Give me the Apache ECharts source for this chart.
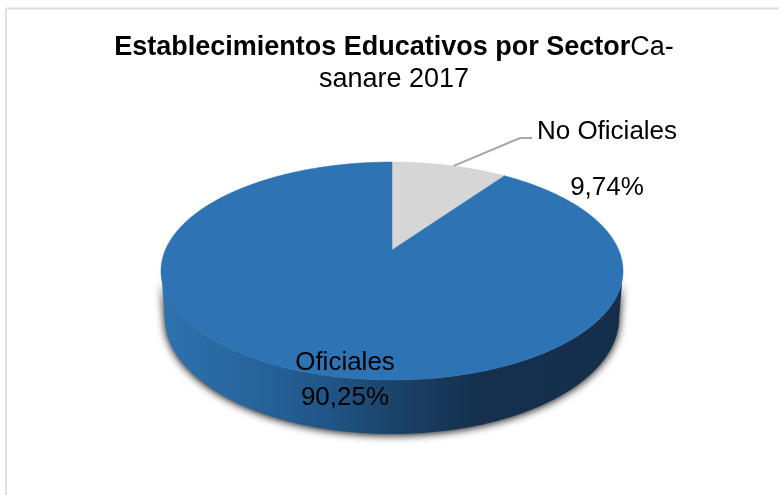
<!DOCTYPE html>
<html>
<head>
<meta charset="utf-8">
<title>Establecimientos Educativos por Sector</title>
<style>
	html,body{margin:0;padding:0;background:#fff;}
	#main{width:779px;height:495px;}
</style>
<script src="https://cdn.jsdelivr.net/npm/echarts@6/dist/echarts.min.js"></script>
</head>
<body>
<div id="main"></div>
<script>
var categories=['No Oficiales','Oficiales'];
var values=[9.74,90.25];
var valueLabels=['9,74%','90,25%'];
var colors=['#d6d6d6','#2e74b5'];

var fontName='"Liberation Sans",Arial,sans-serif';
var total=values[0]+values[1];

// la tarta se ve en perspectiva: el centro real queda por encima del centro de la elipse
var cx=392,apexY=250,persp=0.1927,scaleX=226.7,scaleY=104.96;
// borde inferior de la pared lateral
var wallCy=318,wallRy=116,wallRx=0.983,rimCy=271,rimRy=109;

function project(theta){
	var u=Math.sin(theta),v=Math.cos(theta),w=1+persp*v;
	return [cx+scaleX*u/w,apexY-scaleY*v/w];
}
function projectLower(theta){
	var p=project(theta);
	return [cx+(p[0]-cx)*wallRx,wallCy+(p[1]-rimCy)*wallRy/rimRy];
}
function rim(from,to,fn){
	var pts=[],n=Math.max(2,Math.ceil(Math.abs(to-from)/0.01));
	for(var i=0;i<=n;i++){
		pts.push(fn(from+(to-from)*i/n));
	}
	return pts;
}

function renderWall(){
	var start=Math.acos(-persp),end=2*Math.PI-start;
	var pts=rim(start,end,project).concat(rim(end,start,projectLower));
	return {
		type:'polygon',
		shape:{points:pts},
		style:{
			fill:new echarts.graphic.LinearGradient(0,0,1,0,[
				{offset:0,color:'#2e72ae'},
				{offset:0.2,color:'#27649c'},
				{offset:0.37,color:'#205485'},
				{offset:0.5,color:'#1b4369'},
				{offset:0.68,color:'#15304f'},
				{offset:1,color:'#142e4b'}
			]),
			shadowBlur:8,
			shadowColor:'rgba(0,0,0,1)',
			shadowOffsetY:1
		}
	};
}

function renderSlice(params,api){
	var i=params.dataIndex,before=0;
	for(var k=0;k<i;k++){
		before+=values[k];
	}
	var from=before/total*2*Math.PI;
	var to=(before+api.value(0))/total*2*Math.PI;
	var pts=[[cx,apexY]].concat(rim(from,to,project));
	return {
		type:'polygon',
		shape:{points:pts},
		style:{fill:colors[i],stroke:colors[i],lineWidth:0.5}
	};
}

var labelPlaces=[
	{x:607,y1:132,y2:188},
	{x:345,y1:363,y2:398}
];
function renderLabel(params){
	var i=params.dataIndex,place=labelPlaces[i],children=[];
	if(i==0){
		var mid=project(values[0]/total*Math.PI*1.07);
		children.push({
			type:'polyline',
			shape:{points:[mid,[520,138],[532,138]]},
			style:{stroke:'#a6a6a6',lineWidth:2,fill:null}
		});
	}
	[categories[i],valueLabels[i]].forEach(function(t,n){
		children.push({
			type:'text',
			style:{
				text:t,
				x:place.x,
				y:n==0?place.y1:place.y2,
				align:'center',
				verticalAlign:'middle',
				fill:'#000',
				fontSize:26,
				fontFamily:fontName
			}
		});
	});
	return {type:'group',children:children};
}

var chart=echarts.init(document.getElementById('main'),null,{renderer:'canvas'});
chart.setOption({
	backgroundColor:'#ffffff',
	animation:false,
	title:{
		left:389,
		top:27,
		textAlign:'center',
		text:'{b|Establecimientos Educativos por Sector}{n|Ca-}\n{n|sanare 2017}',
		textStyle:{
			lineHeight:32,
			rich:{
				b:{fontFamily:fontName,fontSize:27,fontWeight:'bold',color:'#000',lineHeight:32},
				n:{fontFamily:fontName,fontSize:27,fontWeight:'normal',color:'#000',lineHeight:32}
			}
		}
	},
	graphic:[{
		type:'rect',
		silent:true,
		shape:{x:6,y:8.5,width:800,height:520},
		style:{fill:null,stroke:'#e0e0e0',lineWidth:2}
	}],
	series:[
		{type:'custom',coordinateSystem:'none',silent:true,z:2,data:[total],renderItem:renderWall},
		{type:'custom',coordinateSystem:'none',silent:true,z:3,data:values,renderItem:renderSlice},
		{type:'custom',coordinateSystem:'none',silent:true,z:4,data:values,renderItem:renderLabel}
	]
});
</script>
</body>
</html>
